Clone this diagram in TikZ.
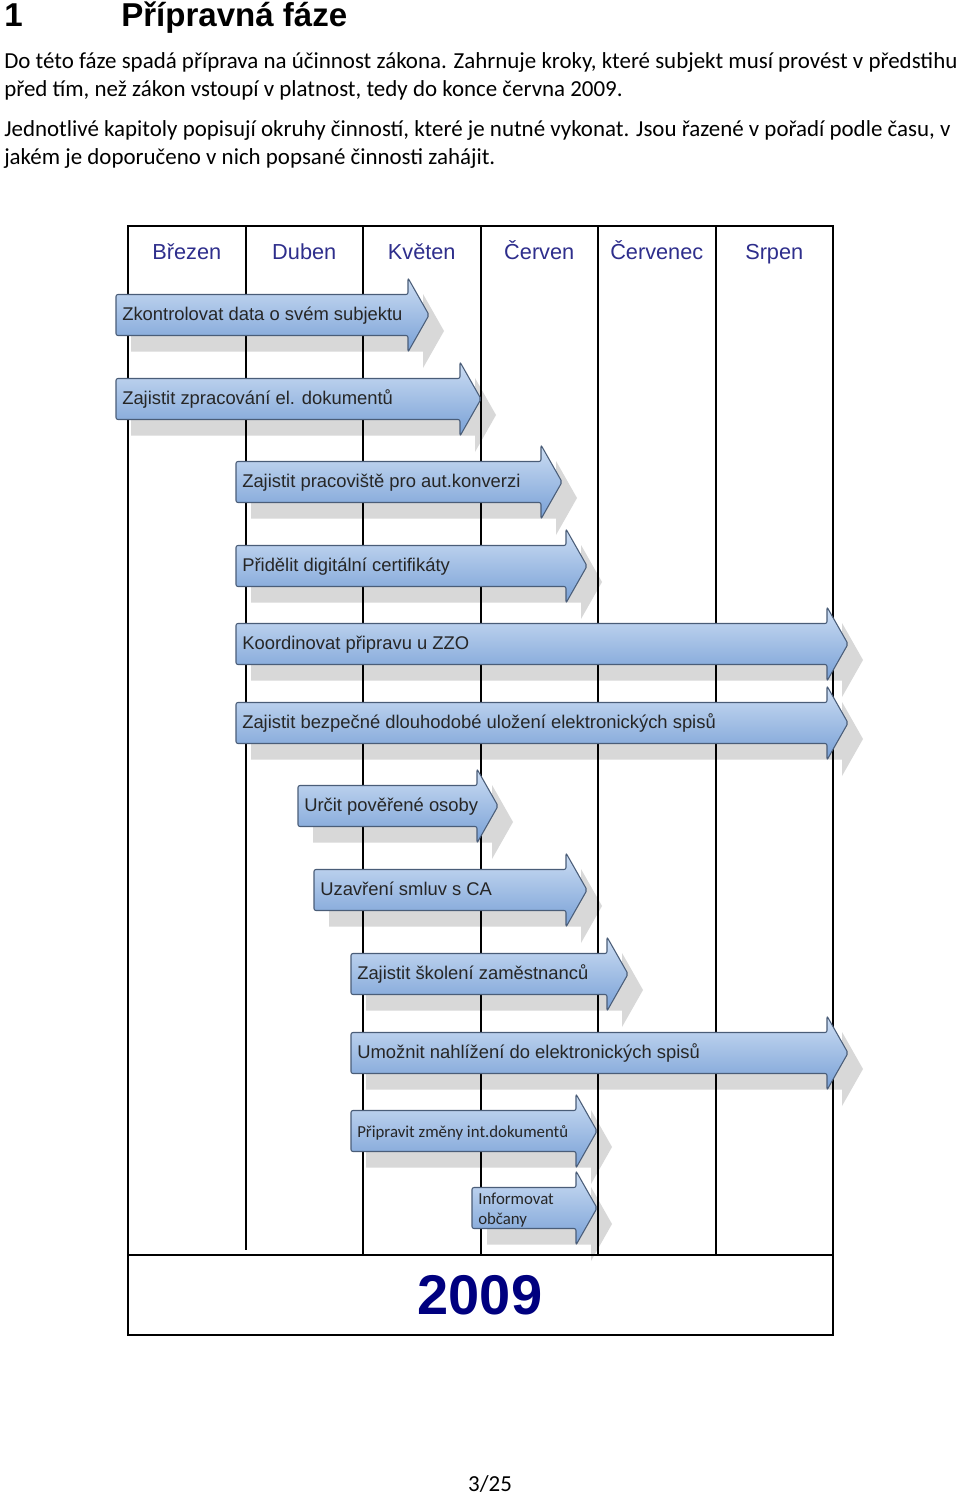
\documentclass[tikz,border=0pt]{standalone}
\usepackage{fontspec}
\setmainfont{Carlito}
\newfontfamily\arialfont{Liberation Sans}
\usepackage{xcolor}
\definecolor{monthtxt}{HTML}{2E2E8C}
\definecolor{yeartxt}{HTML}{00007F}
\definecolor{arrtop}{HTML}{CCDDF3}
\definecolor{arrbot}{HTML}{78A0D6}
\definecolor{arrline}{HTML}{4A5D78}
\definecolor{shadowbg}{HTML}{D8D8D8}
\definecolor{labeltxt}{HTML}{262626}
\pgfdeclarelayer{bg}
\pgfdeclarelayer{shade}
\pgfdeclarelayer{grid}
\pgfsetlayers{bg,shade,grid,main}
\tikzset{
  para/.style={anchor=base west, inner sep=0pt, font=\fontsize{17.2}{20}\selectfont},
  head/.style={anchor=base west, inner sep=0pt, font=\arialfont\bfseries\fontsize{24.8}{28}\selectfont},
  month/.style={anchor=base, inner sep=0pt, text=monthtxt, font=\arialfont\fontsize{16.3}{19}\selectfont},
  year/.style={inner sep=0pt, text=yeartxt, font=\arialfont\bfseries\fontsize{42}{46}\selectfont},
  frame/.style={line width=2.2pt, line cap=rect},
  arrowbox/.style={draw=arrline, line width=0.8pt, rounded corners=1.5pt, top color=arrtop, bottom color=arrbot},
  lbl/.style={anchor=west, inner sep=0pt, text=labeltxt, text height=0.72em, text depth=0.2em, font=\arialfont\fontsize{13.8}{16}\selectfont},
  lblsmall/.style={anchor=west, inner sep=0pt, text=labeltxt, align=left, font=\fontsize{12.6}{15.5}\selectfont},
}
\newcommand{\taskarrow}[6]{%
  \begin{pgfonlayer}{shade}
    \fill[shadowbg, shift={(15,16)}] (#2,#4-20.5) -- (#3,#4-20.5) -- (#3,#4-37) -- (#3+21,#4) -- (#3,#4+37) -- (#3,#4+20.5) -- (#2,#4+20.5) -- cycle;
  \end{pgfonlayer}
  \draw[arrowbox] (#2,#4-20.5) -- (#3,#4-20.5) -- (#3,#4-37) -- (#3+21,#4) -- (#3,#4+37) -- (#3,#4+20.5) -- (#2,#4+20.5) -- cycle;
  \node[#5] (#1) at (#2+6,#4+2) {#6};
}

\begin{document}
\begin{tikzpicture}[x=0.75pt, y=-0.75pt]
  \begin{pgfonlayer}{bg}
    \fill[white] (0,0) rectangle (960,1498);
  \end{pgfonlayer}
  \useasboundingbox (0,0) rectangle (960,1498);

  \node[head] (num) at (4,27) {1};
  \node[head] (title) at (121,27) {Přípravná fáze};
  \node[para] (p1) at (4,69) {Do této fáze spadá příprava na účinnost zákona. Zahrnuje kroky, které subjekt musí provést v předstihu};
  \node[para] (p2) at (4,97) {před tím, než zákon vstoupí v platnost, tedy do konce června 2009.};
  \node[para] (p3) at (4,137) {Jednotlivé kapitoly popisují okruhy činností, které je nutné vykonat. Jsou řazené v pořadí podle času, v};
  \node[para] (p4) at (4,165) {jakém je doporučeno v nich popsané činnosti zahájit.};

  \begin{pgfonlayer}{grid}
    \draw[frame] (128,226) rectangle (833,1335);
    \draw[frame] (128,1255) -- (833,1255);
    \draw[frame] (246,226) -- (246,1249);
    \foreach \x in {363,481,598,716}
      \draw[frame] (\x,226) -- (\x,1255);
  \end{pgfonlayer}
  \foreach \m [count=\i] in {Březen,Duben,Květen,Červen,Červenec,Srpen}
    \node[month] (m\i) at (128+117.5*\i-58.75,259) {\m};

  \taskarrow{t1}{116}{408}{315}{lbl}{Zkontrolovat data o svém subjektu}
  \taskarrow{t2}{116}{460}{399}{lbl}{Zajistit zpracování el. dokumentů}
  \taskarrow{t3}{236}{541}{482}{lbl}{Zajistit pracoviště pro aut.konverzi}
  \taskarrow{t4}{236}{566}{566}{lbl}{Přidělit digitální certifikáty}
  \taskarrow{t5}{236}{827}{644}{lbl}{Koordinovat připravu u ZZO}
  \taskarrow{t6}{236}{827}{723}{lbl}{Zajistit bezpečné dlouhodobé uložení elektronických spisů}
  \taskarrow{t7}{298}{477}{806}{lbl}{Určit pověřené osoby}
  \taskarrow{t8}{314}{566}{890}{lbl}{Uzavření smluv s CA}
  \taskarrow{t9}{351}{607}{974}{lbl}{Zajistit školení zaměstnanců}
  \taskarrow{t10}{351}{827}{1053}{lbl}{Umožnit nahlížení do elektronických spisů}
  \taskarrow{t11}{351}{576}{1131}{lblsmall}{Připravit změny int.dokumentů}
  \taskarrow{t12}{472}{576}{1208}{lblsmall}{Informovat\\občany}

  \node[year] (yr) at (480,1295) {2009};
  \node[para, anchor=base] (pg) at (490,1491) {3/25};
\end{tikzpicture}
\end{document}
